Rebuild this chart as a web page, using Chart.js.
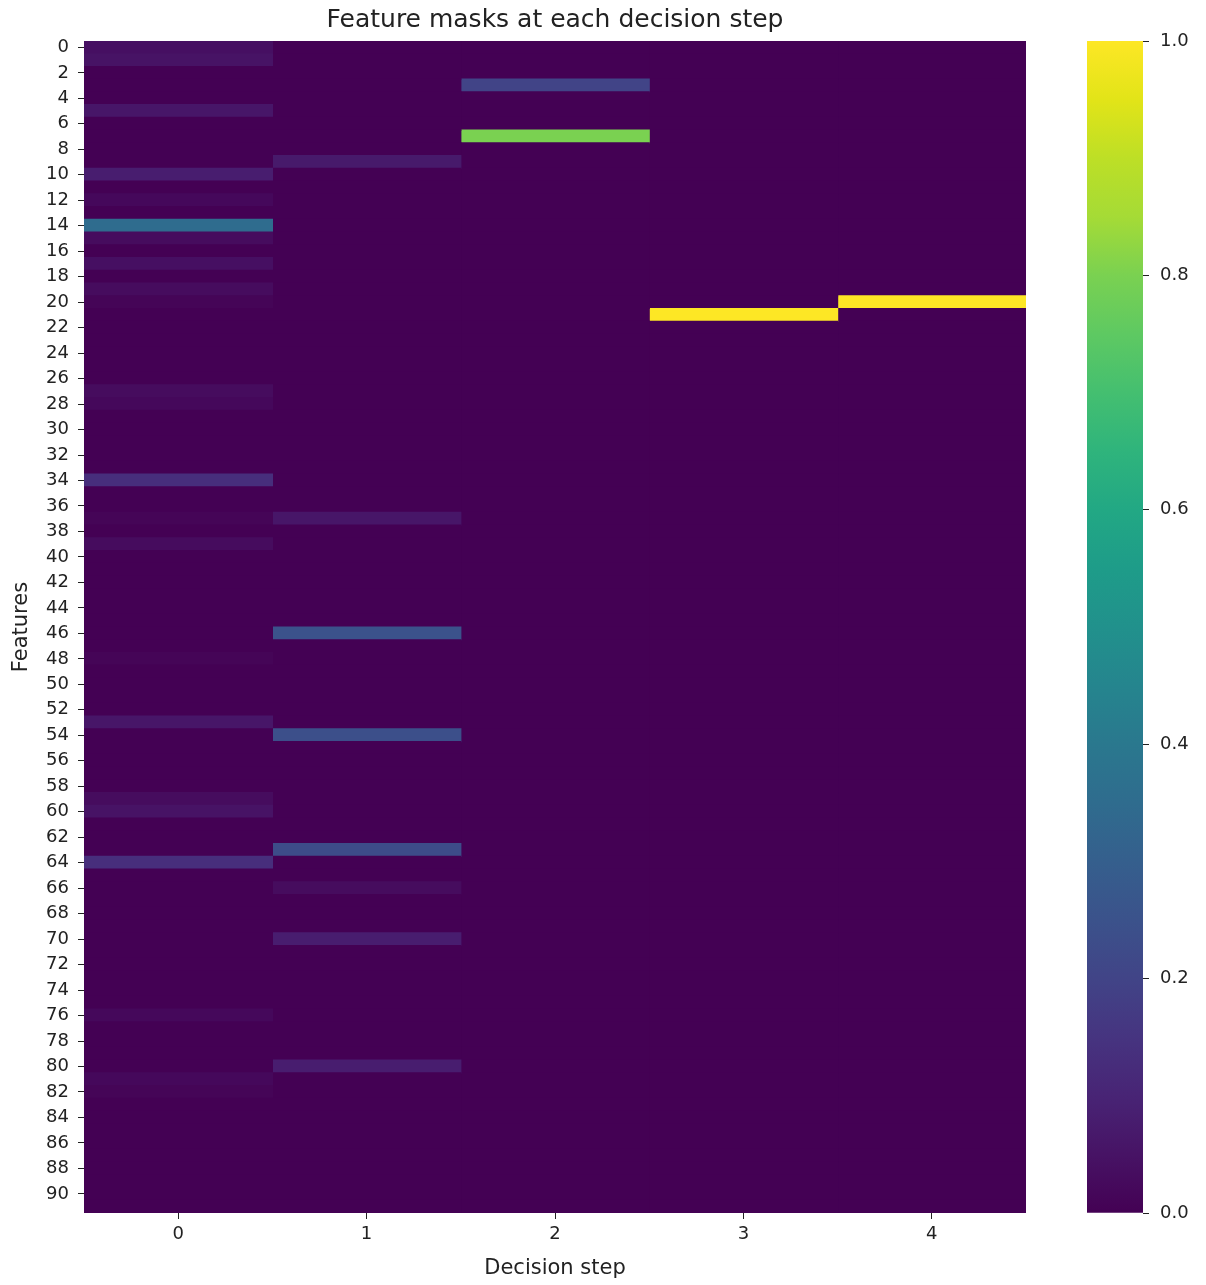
<!DOCTYPE html>
<html>
<head>
<meta charset="utf-8">
<title>Feature masks at each decision step</title>
<script src="https://cdn.jsdelivr.net/npm/chart.js@4.4.1/dist/chart.umd.min.js"></script>
<style>
  html, body { margin: 0; padding: 0; background: #ffffff; }
  #wrap { position: relative; width: 1206px; height: 1285px; }
  #mainChart { position: absolute; left: 0; top: 0; }
  #barChart { position: absolute; left: 1087px; top: 0; }
</style>
</head>
<body>
<div id="wrap">
  <canvas id="mainChart" width="1206" height="1285"></canvas>
  <canvas id="barChart" width="119" height="1285"></canvas>
</div>
<script>
// Decision steps (columns) and feature indices (rows)
const steps = [0, 1, 2, 3, 4];
const features = Array.from({ length: 92 }, (_, i) => String(i));

// Mask values per decision step, one value per feature
const step0 = [
  0.04, 0.05, 0, 0, 0, 0.06, 0, 0, 0, 0,
  0.08, 0, 0.02, 0, 0.35, 0.03, 0, 0.04, 0, 0.03,
  0.01, 0, 0, 0, 0, 0, 0, 0.03, 0.02, 0,
  0, 0, 0, 0, 0.13, 0, 0, 0.01, 0, 0.03,
  0, 0, 0, 0, 0, 0, 0, 0, 0.01, 0,
  0, 0, 0, 0.06, 0, 0, 0, 0, 0, 0.03,
  0.05, 0, 0, 0, 0.13, 0, 0, 0, 0, 0,
  0, 0, 0, 0, 0, 0, 0.02, 0, 0, 0,
  0, 0.02, 0.01, 0, 0, 0, 0, 0, 0, 0,
  0, 0
];
const step1 = [
  0, 0, 0, 0, 0, 0, 0, 0, 0, 0.07,
  0, 0, 0, 0, 0, 0, 0, 0, 0, 0,
  0, 0, 0, 0, 0, 0, 0, 0, 0, 0,
  0, 0, 0, 0, 0, 0, 0, 0.06, 0, 0,
  0, 0, 0, 0, 0, 0, 0.25, 0, 0, 0,
  0, 0, 0, 0, 0.24, 0, 0, 0, 0, 0,
  0, 0, 0, 0.23, 0, 0, 0.03, 0, 0, 0,
  0.08, 0, 0, 0, 0, 0, 0, 0, 0, 0,
  0.08, 0, 0, 0, 0, 0, 0, 0, 0, 0,
  0, 0
];
const step2 = [
  0, 0, 0, 0.2, 0, 0, 0, 0.8, 0, 0,
  0, 0, 0, 0, 0, 0, 0, 0, 0, 0,
  0, 0, 0, 0, 0, 0, 0, 0, 0, 0,
  0, 0, 0, 0, 0, 0, 0, 0, 0, 0,
  0, 0, 0, 0, 0, 0, 0, 0, 0, 0,
  0, 0, 0, 0, 0, 0, 0, 0, 0, 0,
  0, 0, 0, 0, 0, 0, 0, 0, 0, 0,
  0, 0, 0, 0, 0, 0, 0, 0, 0, 0,
  0, 0, 0, 0, 0, 0, 0, 0, 0, 0,
  0, 0
];
const step3 = [
  0, 0, 0, 0, 0, 0, 0, 0, 0, 0,
  0, 0, 0, 0, 0, 0, 0, 0, 0, 0,
  0, 1, 0, 0, 0, 0, 0, 0, 0, 0,
  0, 0, 0, 0, 0, 0, 0, 0, 0, 0,
  0, 0, 0, 0, 0, 0, 0, 0, 0, 0,
  0, 0, 0, 0, 0, 0, 0, 0, 0, 0,
  0, 0, 0, 0, 0, 0, 0, 0, 0, 0,
  0, 0, 0, 0, 0, 0, 0, 0, 0, 0,
  0, 0, 0, 0, 0, 0, 0, 0, 0, 0,
  0, 0
];
const step4 = [
  0, 0, 0, 0, 0, 0, 0, 0, 0, 0,
  0, 0, 0, 0, 0, 0, 0, 0, 0, 0,
  1, 0, 0, 0, 0, 0, 0, 0, 0, 0,
  0, 0, 0, 0, 0, 0, 0, 0, 0, 0,
  0, 0, 0, 0, 0, 0, 0, 0, 0, 0,
  0, 0, 0, 0, 0, 0, 0, 0, 0, 0,
  0, 0, 0, 0, 0, 0, 0, 0, 0, 0,
  0, 0, 0, 0, 0, 0, 0, 0, 0, 0,
  0, 0, 0, 0, 0, 0, 0, 0, 0, 0,
  0, 0
];
const stepValues = [step0, step1, step2, step3, step4];

// Colour bar ticks
const colorbarTicks = [0, 0.2, 0.4, 0.6, 0.8, 1.0];

// viridis colour map, sampled every 0.05
const viridis = [
  '#440154', '#471365', '#482475', '#463480', '#414487', '#3b528b', '#355f8d',
  '#2f6c8e', '#2a788e', '#25858e', '#21918c', '#1e9c89', '#22a884', '#2fb47c',
  '#44bf70', '#5ec962', '#7ad151', '#a5db36', '#bddf26', '#e2e418', '#fde725'
];

function hexToRgb(hex) {
  const n = parseInt(hex.slice(1), 16);
  return [(n >> 16) & 255, (n >> 8) & 255, n & 255];
}

function viridisColor(v) {
  const t = Math.min(1, Math.max(0, v)) * (viridis.length - 1);
  const i = Math.min(viridis.length - 2, Math.floor(t));
  const f = t - i;
  const a = hexToRgb(viridis[i]);
  const b = hexToRgb(viridis[i + 1]);
  const c = a.map((x, k) => Math.round(x + (b[k] - x) * f));
  return `rgb(${c[0]}, ${c[1]}, ${c[2]})`;
}

Chart.defaults.font.family = "'DejaVu Sans', sans-serif";
Chart.defaults.color = '#222222';
Chart.defaults.animation = false;

const textColor = '#222222';
const tickFont = { size: 18 };
const labelFont = { size: 21 };

// one floating horizontal bar per cell, spanning its step column
const datasets = steps.map((s, si) => ({
  label: 'Step ' + s,
  data: features.map(() => [s - 0.5, s + 0.5]),
  backgroundColor: stepValues[si].map(viridisColor),
  borderWidth: 0,
  inflateAmount: 0.6,
  barPercentage: 1.0,
  categoryPercentage: 1.0,
  grouped: false,
}));

new Chart(document.getElementById('mainChart'), {
  type: 'bar',
  data: { labels: features, datasets },
  options: {
    indexAxis: 'y',
    responsive: false,
    layout: { padding: { left: 9, right: 180, top: 0, bottom: 0 } },
    plugins: {
      legend: { display: false },
      tooltip: { enabled: false },
      title: {
        display: true,
        fullSize: false,
        text: 'Feature masks at each decision step',
        color: textColor,
        font: { size: 25, weight: 'normal' },
        padding: { top: 5, bottom: 6 },
      },
    },
    scales: {
      x: {
        type: 'linear',
        min: -0.5,
        max: 4.5,
        afterBuildTicks: (scale) => { scale.ticks = steps.map(v => ({ value: v })); },
        afterFit: (scale) => { scale.height = 72; },
        border: { display: false },
        grid: { drawOnChartArea: false, drawTicks: true, tickLength: 6, color: '#222222' },
        ticks: { color: textColor, font: tickFont, padding: 5, callback: (v) => String(v) },
        title: { display: true, text: 'Decision step', color: textColor, font: labelFont, padding: { top: 2, bottom: 4 } },
      },
      y: {
        type: 'category',
        offset: true,
        afterFit: (scale) => { scale.width = 75; },
        border: { display: false },
        grid: {
          offset: false,
          drawOnChartArea: false,
          drawTicks: true,
          tickLength: 6,
          color: (ctx) => (ctx.index % 2 === 0 ? '#222222' : 'rgba(0,0,0,0)'),
        },
        ticks: {
          autoSkip: false,
          color: textColor,
          font: tickFont,
          padding: 9,
          callback: (val, i) => (i % 2 === 0 ? features[i] : ''),
        },
        title: { display: true, text: 'Features', color: textColor, font: labelFont, padding: { top: 0, bottom: 2 } },
      },
    },
  },
});

// colour bar: a single floating bar from 0 to 1 filled with the viridis gradient
new Chart(document.getElementById('barChart'), {
  type: 'bar',
  data: {
    labels: [''],
    datasets: [{
      data: [[0, 1]],
      borderWidth: 0,
      barPercentage: 1.0,
      categoryPercentage: 1.0,
      backgroundColor: (ctx) => {
        const area = ctx.chart.chartArea;
        if (!area) return viridis[0];
        const g = ctx.chart.ctx.createLinearGradient(0, area.bottom, 0, area.top);
        viridis.forEach((c, i) => g.addColorStop(i / (viridis.length - 1), c));
        return g;
      },
    }],
  },
  options: {
    responsive: false,
    layout: { padding: { left: 0, right: 0, top: 41, bottom: 72 } },
    plugins: { legend: { display: false }, tooltip: { enabled: false } },
    scales: {
      x: { display: false, offset: true },
      y: {
        position: 'right',
        min: 0,
        max: 1,
        afterBuildTicks: (scale) => { scale.ticks = colorbarTicks.map(v => ({ value: v })); },
        afterFit: (scale) => { scale.width = 63; },
        border: { display: false },
        grid: { drawOnChartArea: false, drawTicks: true, tickLength: 6, color: '#222222' },
        ticks: { color: textColor, font: tickFont, padding: 11, callback: (v) => Number(v).toFixed(1) },
      },
    },
  },
});
</script>
</body>
</html>
